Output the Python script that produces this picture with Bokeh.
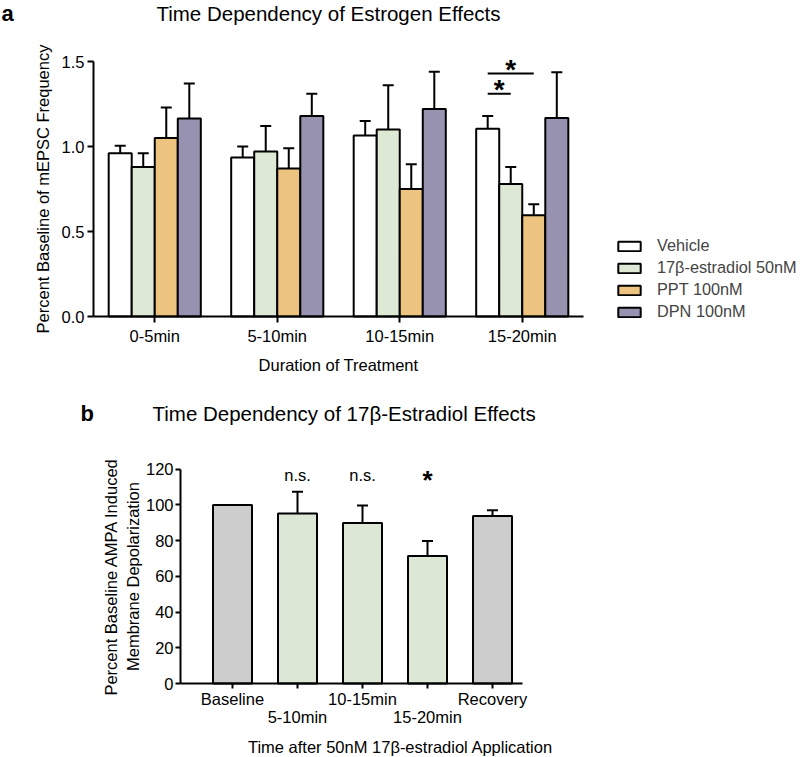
from bokeh.plotting import figure
from bokeh.models import (ColumnDataSource, Range1d, Whisker, TeeHead, Legend,
                          LegendItem, LinearAxis, FixedTicker, NumeralTickFormatter,
                          Label)
from bokeh.core.properties import value
from bokeh.embed import file_html
from bokeh.resources import INLINE

FONT = "Liberation Sans"
FS = "16.5px"

# ---------------- Panel a data ----------------
durations = ["0-5min", "5-10min", "10-15min", "15-20min"]
treatments = ["Vehicle", "17β-estradiol 50nM", "PPT 100nM", "DPN 100nM"]
treatment_colors = ["#ffffff", "#dde8d5", "#ecc480", "#9792b0"]
vehicle_mean = [0.96, 0.935, 1.065, 1.105]
vehicle_sem = [0.045, 0.065, 0.085, 0.075]
estradiol_mean = [0.88, 0.97, 1.10, 0.78]
estradiol_sem = [0.08, 0.15, 0.26, 0.10]
ppt_mean = [1.05, 0.87, 0.75, 0.595]
ppt_sem = [0.18, 0.12, 0.145, 0.065]
dpn_mean = [1.165, 1.18, 1.22, 1.167]
dpn_sem = [0.205, 0.13, 0.22, 0.27]
a_yticks = [0.0, 0.5, 1.0, 1.5]

# significance brackets (group, from-treatment, to-treatment, y level)
sig_group = ["15-20min", "15-20min"]
sig_from = [0, 0]
sig_to = [2, 1]
sig_y = [1.43, 1.31]
sig_text = ["*", "*"]

# ---------------- Panel b data ----------------
conditions = ["Baseline", "5-10min", "10-15min", "15-20min", "Recovery"]
cond_label_row = [0, 1, 0, 1, 0]   # staggered tick labels (0 = upper, 1 = lower)
cond_mean = [100.0, 95.2, 89.9, 71.4, 93.8]
cond_sem = [0.0, 12.1, 9.8, 8.4, 3.2]
cond_colors = ["#cdcdcd", "#dde7d5", "#dde7d5", "#dde7d5", "#cdcdcd"]
cond_annot = ["", "n.s.", "n.s.", "*", ""]
b_yticks = [0, 20, 40, 60, 80, 100, 120]
b_annot_y = 116.5

# ---------------- layout (pixels) ----------------
W = 800
HA, HB = 388, 369
# panel a: category unit = 122.5 px, first category starts at x=93, y=0 at 316, 1 unit = 170 px
A_UX, A_X0, A_Y0, A_UY = 122.5, 93.0, 316.0, 170.0
# panel b: category unit = 65 px, first category centre at x=232, y=0 at 295 (in-figure), 1 unit = 1.786 px
B_UX, B_XC0, B_Y0, B_UY = 65.0, 232.0, 295.0, 1.786


def style_axis(ax):
    ax.axis_line_width = 2
    ax.axis_line_color = "black"
    ax.major_tick_line_width = 2
    ax.major_tick_line_color = "black"
    ax.major_tick_in = 0
    ax.minor_tick_line_color = None
    ax.major_label_text_font = FONT
    ax.major_label_text_font_size = FS
    ax.major_label_text_color = "black"
    ax.axis_label_text_font = FONT
    ax.axis_label_text_font_size = FS
    ax.axis_label_text_font_style = "normal"
    ax.axis_label_text_color = "black"


def base_fig(width, height, xr, yr):
    p = figure(width=width, height=height, x_range=xr, y_range=yr,
               output_backend="svg", toolbar_location=None,
               x_axis_location=None, y_axis_location=None,
               min_border=0, min_border_left=0, min_border_right=0,
               min_border_top=0, min_border_bottom=0)
    p.title.visible = False
    p.xgrid.grid_line_color = None
    p.ygrid.grid_line_color = None
    p.outline_line_color = None
    p.background_fill_color = "white"
    p.border_fill_color = "white"
    return p


# ================= Panel a =================
pa = base_fig(W, HA,
              Range1d(-A_X0 / A_UX, (W - A_X0) / A_UX),
              Range1d((A_Y0 - HA) / A_UY, A_Y0 / A_UY))

ya = LinearAxis(fixed_location=0, ticker=FixedTicker(ticks=a_yticks),
                formatter=NumeralTickFormatter(format="0.0"))
style_axis(ya)
ya.bounds = (0, a_yticks[-1])
ya.major_tick_out = 6
ya.major_label_standoff = 3
ya.axis_label = "Percent Baseline of mEPSC Frequency"
ya.axis_label_standoff = 7
pa.add_layout(ya, "left")

a_centers = [i + 0.5 for i in range(len(durations))]
xa = LinearAxis(fixed_location=0, ticker=FixedTicker(ticks=a_centers))
style_axis(xa)
xa.bounds = (0, len(durations))
xa.major_tick_out = 6
xa.major_label_standoff = 4
xa.major_label_overrides = dict(zip(a_centers, durations))
xa.axis_label = "Duration of Treatment"
xa.axis_label_standoff = 8
pa.add_layout(xa, "below")

group_width = 0.752
n_t = len(treatments)
bar_w = group_width / n_t
offsets = [-group_width / 2 + bar_w * (i + 0.5) for i in range(n_t)]

means = [vehicle_mean, estradiol_mean, ppt_mean, dpn_mean]
sems = [vehicle_sem, estradiol_sem, ppt_sem, dpn_sem]
legend_items = []
for i, name in enumerate(treatments):
    src = ColumnDataSource(dict(
        x=[c + offsets[i] for c in a_centers], mean=means[i],
        top=[m + s for m, s in zip(means[i], sems[i])]))
    r = pa.vbar(x="x", top="mean", width=bar_w, source=src,
                fill_color=treatment_colors[i], line_color="black", line_width=2)
    pa.add_layout(Whisker(base="x", upper="top", lower="mean", source=src,
                          line_color="black", line_width=2, lower_head=None,
                          upper_head=TeeHead(size=11, line_width=2, line_color="black")))
    legend_items.append(LegendItem(label=name, renderers=[r]))

legend = Legend(items=legend_items, location=(615, HA - 321), orientation="vertical",
                label_text_font=FONT, label_text_font_size="16.3px",
                glyph_width=28, glyph_height=12, label_standoff=14, spacing=3,
                label_height=18, padding=0, margin=0, border_line_color=None,
                background_fill_alpha=0)
pa.add_layout(legend)

# significance brackets
x0s = [a_centers[durations.index(g)] + offsets[f] for g, f in zip(sig_group, sig_from)]
x1s = [a_centers[durations.index(g)] + offsets[t] for g, t in zip(sig_group, sig_to)]
xm = [(a + b) / 2 for a, b in zip(x0s, x1s)]
pa.segment(x0=x0s, x1=x1s, y0=sig_y, y1=sig_y, line_color="black", line_width=2)
pa.text(x=xm, y=sig_y, text=sig_text, text_align="center", text_baseline="middle",
        y_offset=-4, text_font=value(FONT), text_font_size="28px",
        text_font_style="bold", text_color="black")

pa.add_layout(Label(x=(328 - A_X0) / A_UX, y=(A_Y0 - 13) / A_UY,
                    text="Time Dependency of Estrogen Effects", text_align="center",
                    text_baseline="middle", text_font=FONT, text_font_size="20.5px",
                    text_color="black"))
pa.add_layout(Label(x=(1 - A_X0) / A_UX, y=(A_Y0 - 13) / A_UY, text="a",
                    text_align="left", text_baseline="middle", text_font=FONT,
                    text_font_size="22px", text_font_style="bold", text_color="black"))

# ================= Panel b =================
pb = base_fig(W, HB,
              Range1d(0.5 - B_XC0 / B_UX, 0.5 + (W - B_XC0) / B_UX),
              Range1d((B_Y0 - HB) / B_UY, B_Y0 / B_UY))
b_centers = [i + 0.5 for i in range(len(conditions))]
b_axis_x = 0.5 - (232 - 180) / B_UX

yb = LinearAxis(fixed_location=b_axis_x, ticker=FixedTicker(ticks=b_yticks))
style_axis(yb)
yb.bounds = (0, b_yticks[-1])
yb.major_tick_out = 5
yb.major_label_standoff = 2
yb.axis_label = "Percent Baseline AMPA Induced\nMembrane Depolarization"
yb.axis_label_standoff = 1
pb.add_layout(yb, "left")

xb1 = LinearAxis(fixed_location=0, ticker=FixedTicker(ticks=b_centers))
style_axis(xb1)
xb1.bounds = (b_axis_x, 0.5 + (522 - B_XC0) / B_UX)
xb1.major_tick_out = 5
xb1.major_label_standoff = 1
xb1.major_label_overrides = {c: (t if row == 0 else "")
                             for c, t, row in zip(b_centers, conditions, cond_label_row)}
pb.add_layout(xb1, "below")

xb2 = LinearAxis(fixed_location=0, ticker=FixedTicker(ticks=b_centers))
style_axis(xb2)
xb2.axis_line_color = None
xb2.major_tick_line_color = None
xb2.major_tick_out = 0
xb2.major_label_standoff = 24
xb2.major_label_overrides = {c: (t if row == 1 else "")
                             for c, t, row in zip(b_centers, conditions, cond_label_row)}
xb2.axis_label = "Time after 50nM 17β-estradiol Application"
xb2.axis_label_standoff = 9
pb.add_layout(xb2, "below")

srcb = ColumnDataSource(dict(
    x=b_centers, mean=cond_mean, color=cond_colors,
    top=[m + s for m, s in zip(cond_mean, cond_sem)]))
pb.vbar(x="x", top="mean", width=0.6, source=srcb, fill_color="color",
        line_color="black", line_width=2)
err_idx = [i for i, s in enumerate(cond_sem) if s > 0]
srce = ColumnDataSource(dict(
    x=[b_centers[i] for i in err_idx], mean=[cond_mean[i] for i in err_idx],
    top=[cond_mean[i] + cond_sem[i] for i in err_idx]))
pb.add_layout(Whisker(base="x", upper="top", lower="mean", source=srce,
                      line_color="black", line_width=2, lower_head=None,
                      upper_head=TeeHead(size=11, line_width=2, line_color="black")))

ns_idx = [i for i, t in enumerate(cond_annot) if t == "n.s."]
st_idx = [i for i, t in enumerate(cond_annot) if t == "*"]
pb.text(x=[b_centers[i] for i in ns_idx], y=[b_annot_y] * len(ns_idx),
        text=[cond_annot[i] for i in ns_idx], text_align="center",
        text_baseline="middle", text_font=value(FONT), text_font_size=FS,
        text_color="black")
pb.text(x=[b_centers[i] for i in st_idx], y=[b_annot_y] * len(st_idx),
        text=[cond_annot[i] for i in st_idx], text_align="center",
        text_baseline="middle", y_offset=5, text_font=value(FONT),
        text_font_size="26px", text_font_style="bold", text_color="black")

B_TOP = 388  # page offset of panel b
pb.add_layout(Label(x=0.5 + (152 - B_XC0) / B_UX, y=(B_Y0 - (413 - B_TOP)) / B_UY,
                    text="Time Dependency of 17β-Estradiol Effects", text_align="left",
                    text_baseline="middle", text_font=FONT, text_font_size="20.5px",
                    text_color="black"))
pb.add_layout(Label(x=0.5 + (80 - B_XC0) / B_UX, y=(B_Y0 - (413 - B_TOP)) / B_UY,
                    text="b", text_align="left", text_baseline="middle",
                    text_font=FONT, text_font_size="22px", text_font_style="bold",
                    text_color="black"))

open("out.html", "w").write(file_html([pa, pb], INLINE))
